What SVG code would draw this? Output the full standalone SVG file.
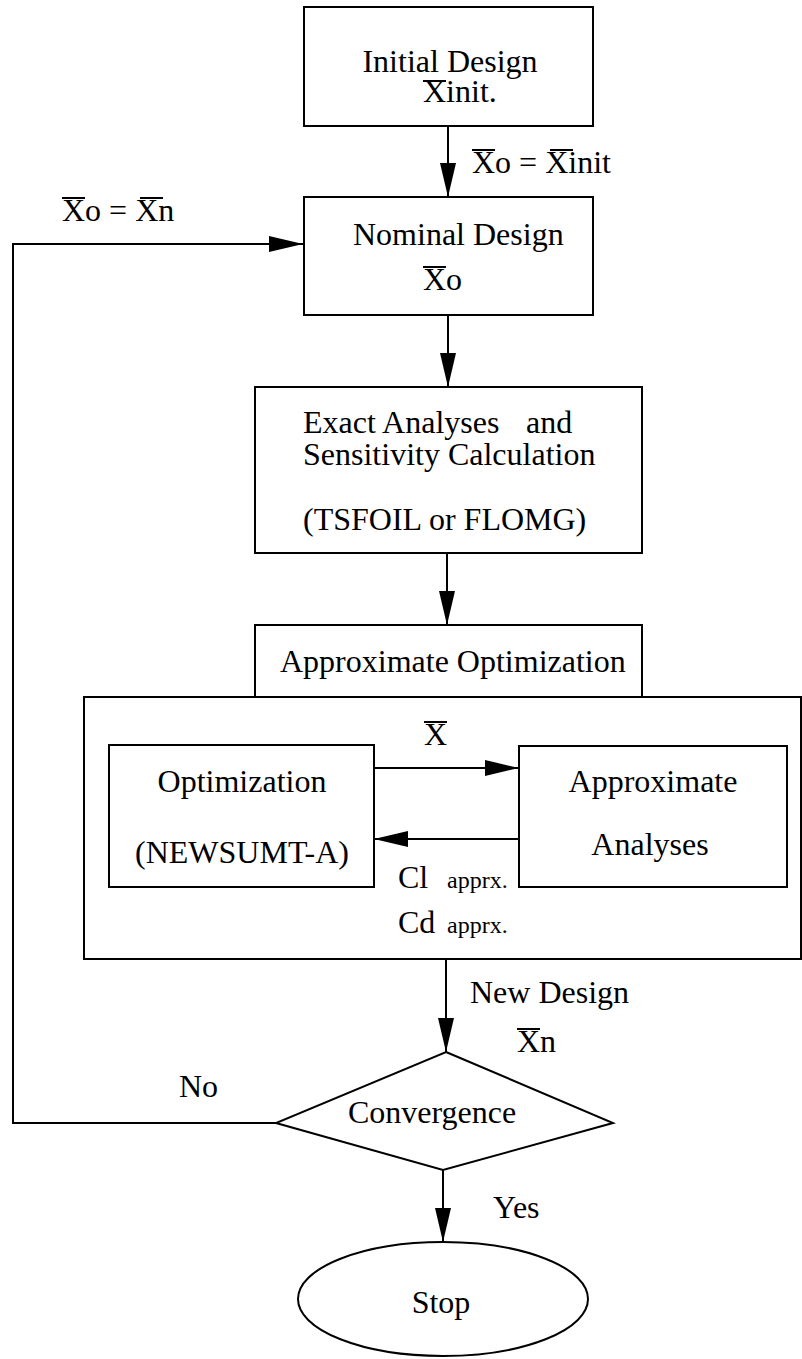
<svg xmlns="http://www.w3.org/2000/svg" width="802" height="1359" viewBox="0 0 802 1359">
<style>
.box{fill:none;stroke:#000;stroke-width:2}
.ln{fill:none;stroke:#000;stroke-width:2}
.ov{stroke:#000;stroke-width:2}
text{font-family:"Liberation Serif","Times New Roman",serif;font-size:32px;fill:#000}
.sm{font-size:24px}
.c{text-anchor:middle}
</style>
<defs>
<marker id="ah" markerUnits="userSpaceOnUse" viewBox="0 0 34 16" markerWidth="34" markerHeight="16" refX="34" refY="8" orient="auto">
<path d="M0,0 L34,8 L0,16 z" fill="#000"/>
</marker>
</defs>
<rect width="802" height="1359" fill="#fff"/>
<g id="connectors">
<line class="ln" x1="448" y1="126" x2="448" y2="197" marker-end="url(#ah)"/>
<line class="ln" x1="448" y1="315" x2="448" y2="387" marker-end="url(#ah)"/>
<line class="ln" x1="447" y1="553" x2="447" y2="625" marker-end="url(#ah)"/>
<line class="ln" x1="374" y1="768" x2="519" y2="768" marker-end="url(#ah)"/>
<line class="ln" x1="519" y1="839" x2="374" y2="839" marker-end="url(#ah)"/>
<line class="ln" x1="446" y1="959" x2="446" y2="1052" marker-end="url(#ah)"/>
<line class="ln" x1="443" y1="1170" x2="443" y2="1242" marker-end="url(#ah)"/>
<polyline class="ln" points="276,1123 13,1123 13,244 303,244" marker-end="url(#ah)"/>
<text x="472" y="173">Xo = Xinit</text>
<line class="ov" x1="472" y1="150" x2="495" y2="150"/>
<line class="ov" x1="550" y1="150" x2="573" y2="150"/>
<text x="62" y="221">Xo = Xn</text>
<line class="ov" x1="62" y1="198" x2="85" y2="198"/>
<line class="ov" x1="140" y1="198" x2="163" y2="198"/>
<text x="424" y="745">X</text>
<line class="ov" x1="424" y1="722" x2="447" y2="722"/>
<text x="398" y="888">Cl</text><text class="sm" x="447" y="888">apprx.</text>
<text x="398" y="933">Cd</text><text class="sm" x="447" y="933">apprx.</text>
<text x="470" y="1003">New Design</text>
<text x="517" y="1052">Xn</text>
<line class="ov" x1="517" y1="1029" x2="540" y2="1029"/>
<text x="179" y="1097">No</text>
<text x="493" y="1218">Yes</text>
</g>
<g id="initial">
<rect class="box" x="304" y="7" width="289" height="119"/>
<text><tspan class="c" x="450" y="72">Initial Design</tspan><tspan x="423" y="102">Xinit.</tspan></text>
<line class="ov" x1="423" y1="81" x2="446" y2="81"/>
</g>
<g id="nominal">
<rect class="box" x="304" y="197" width="289" height="118"/>
<text><tspan x="353" y="245">Nominal Design</tspan><tspan x="423" y="290">Xo</tspan></text>
<line class="ov" x1="423" y1="267" x2="446" y2="267"/>
</g>
<g id="exact">
<rect class="box" x="255" y="387" width="387" height="166"/>
<text><tspan x="303" y="433">Exact Analyses</tspan><tspan x="526" y="433">and</tspan><tspan x="303" y="465">Sensitivity Calculation</tspan><tspan x="303" y="530">(TSFOIL or FLOMG)</tspan></text>
</g>
<g id="approx-opt">
<rect class="box" x="255" y="625" width="387" height="72"/>
<text x="280" y="672">Approximate Optimization</text>
<rect class="box" x="84" y="697" width="717" height="262"/>
</g>
<g id="optimization">
<rect class="box" x="109" y="745" width="265" height="142"/>
<text class="c" x="242" y="792">Optimization</text>
<text class="c" x="242" y="863">(NEWSUMT-A)</text>
</g>
<g id="approx-analyses">
<rect class="box" x="519" y="746" width="268" height="141"/>
<text class="c" x="653" y="792">Approximate</text>
<text class="c" x="650" y="855">Analyses</text>
</g>
<g id="convergence">
<polygon class="box" points="446,1052 613,1123 443,1170 276,1123"/>
<text class="c" x="432" y="1123">Convergence</text>
</g>
<g id="stop">
<ellipse class="box" cx="443" cy="1299" rx="145" ry="57"/>
<text class="c" x="441" y="1313">Stop</text>
</g>
</svg>
